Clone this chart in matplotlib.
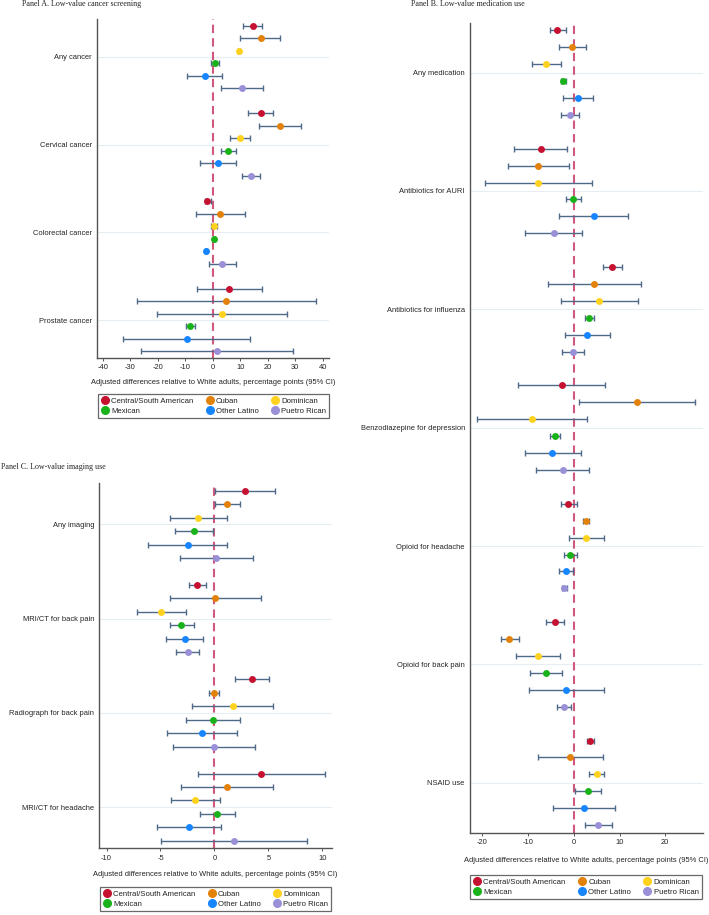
import matplotlib.pyplot as plt
import numpy as np

ETHNICITIES = ["Central/South American", "Cuban", "Dominican",
               "Mexican", "Other Latino", "Puetro Rican"]
COLORS = ["#c41230", "#e3820b", "#ffd21f", "#1ab21a", "#1685ff", "#9a90d8"]

# Panel A. Low-value cancer screening
a_groups = ["Any cancer", "Cervical cancer", "Colorectal cancer", "Prostate cancer"]
a_est = [[14.5, 17.4, 9.6, 0.85, -2.8, 10.7],
         [17.4, 24.4, 10.1, 5.7, 1.9, 13.9],
         [-1.9, 2.7, 0.5, 0.5, -2.3, 3.4],
         [5.8, 5.0, 3.4, -8.3, -9.5, 1.5]]
a_lo = [[10.9, 10.1, 9.2, -0.5, -9.4, 2.9],
        [13.0, 16.9, 6.4, 3.0, -4.7, 10.5],
        [-2.9, -6.0, -0.7, 0.1, -2.7, -1.3],
        [-5.8, -27.7, -20.3, -9.8, -32.5, -26.1]]
a_hi = [[18.1, 24.4, 10.0, 2.2, 3.5, 18.2],
        [21.8, 32.2, 13.7, 8.4, 8.6, 17.3],
        [-0.7, 11.6, 1.7, 0.9, -1.9, 8.4],
        [17.8, 37.7, 27.1, -6.4, 13.5, 29.1]]

# Panel B. Low-value medication use
b_groups = ["Any medication", "Antibiotics for AURI", "Antibiotics for influenza",
            "Benzodiazepine for depression", "Opioid for headache",
            "Opioid for back pain", "NSAID use"]
b_est = [[-3.6, -0.4, -6.1, -2.3, 0.9, -0.9],
         [-7.3, -7.8, -7.8, -0.1, 4.3, -4.4],
         [8.3, 4.5, 5.5, 3.3, 2.9, -0.2],
         [-2.7, 13.8, -9.1, -4.2, -4.7, -2.4],
         [-1.2, 2.6, 2.6, -0.9, -1.7, -2.1],
         [-4.2, -14.1, -7.9, -6.1, -1.7, -2.2],
         [3.6, -0.9, 5.0, 3.0, 2.3, 5.3]]
b_lo = [[-5.3, -3.2, -9.2, -2.9, -2.3, -2.9],
        [-13.0, -14.5, -19.5, -1.8, -3.2, -10.7],
        [6.3, -5.6, -2.8, 2.4, -1.9, -2.6],
        [-12.2, 1.1, -21.1, -5.3, -10.8, -8.3],
        [-2.8, 1.9, -1.1, -2.2, -3.2, -2.7],
        [-6.2, -15.9, -12.6, -9.6, -9.8, -3.6],
        [2.8, -7.8, 3.4, 0.2, -4.5, 2.4]]
b_hi = [[-1.8, 2.6, -2.8, -1.7, 4.2, 1.2],
        [-1.5, -1.0, 4.0, 1.5, 11.8, 1.8],
        [10.5, 14.7, 14.0, 4.3, 8.0, 2.2],
        [6.9, 26.5, 2.8, -3.1, 1.5, 3.4],
        [0.6, 3.3, 6.5, 0.7, -0.1, -1.5],
        [-2.1, -12.0, -3.1, -2.5, 6.6, -0.7],
        [4.4, 6.4, 6.6, 6.0, 9.1, 8.4]]

# Panel C. Low-value imaging use
c_groups = ["Any imaging", "MRI/CT for back pain", "Radiograph for back pain",
            "MRI/CT for headache"]
c_est = [[2.83, 1.18, -1.49, -1.86, -2.48, 0.16],
         [-1.65, 0.06, -4.91, -3.07, -2.76, -2.45],
         [3.45, -0.03, 1.68, -0.12, -1.15, -0.06],
         [4.35, 1.18, -1.77, 0.25, -2.33, 1.86]]
c_lo = [[0.06, 0.03, -4.13, -3.63, -6.15, -3.23],
        [-2.39, -4.13, -7.17, -4.13, -4.47, -3.54],
        [1.89, -0.50, -2.05, -2.61, -4.41, -3.88],
        [-1.49, -3.11, -4.07, -1.34, -5.28, -4.91]]
c_hi = [[5.62, 2.36, 1.21, -0.12, 1.21, 3.60],
        [-0.81, 4.35, -2.64, -1.93, -1.06, -1.40],
        [5.03, 0.43, 5.40, 2.36, 2.11, 3.76],
        [10.25, 5.47, 0.50, 1.93, 0.60, 8.60]]

W, H = 709, 915
fig = plt.figure(figsize=(W / 100, H / 100), dpi=100)
plt.rcParams["font.family"] = ["Liberation Sans", "DejaVu Sans"]

ERR = "#4f6988"
REF = "#d0587c"
TXT = "#222222"
SERIF = ["Liberation Serif", "DejaVu Serif"]
FS = 5.4


def px_axes(left, top, right, bottom):
    return fig.add_axes([left / W, 1 - bottom / H, (right - left) / W, (bottom - top) / H])


def forest(ax, groups, est, lo, hi, xlim, xticks, pad):
    n = len(groups)
    for g in range(n):
        base = g * 7
        for k in range(6):
            y = base + k
            e, l, h = est[g][k], lo[g][k], hi[g][k]
            ax.errorbar(e, y, xerr=[[e - l], [h - e]], fmt="none", ecolor=ERR,
                        elinewidth=1.0, capsize=2.2, capthick=1.0, zorder=3)
            ax.plot(e, y, "o", color=COLORS[k], markersize=5, markeredgewidth=0, zorder=4)
    centers = [g * 7 + 2.5 for g in range(n)]
    for c in centers:
        ax.axhline(c, color="#e6edf3", lw=0.8, zorder=0)
    ax.axvline(0, color=REF, lw=1.5, dashes=(4, 2.5), zorder=2)
    ax.set_yticks(centers)
    ax.set_yticklabels(groups, fontsize=FS, color=TXT)
    ax.tick_params(axis="y", length=0, pad=3.5)
    ax.set_ylim(n * 7 - 2 + pad, -pad)
    ax.set_xlim(*xlim)
    ax.set_xticks(xticks)
    ax.set_xticklabels([str(t) for t in xticks], fontsize=FS, color=TXT)
    ax.tick_params(axis="x", length=2.5, width=0.7, pad=2, color="#555555")
    for s in ["top", "right"]:
        ax.spines[s].set_visible(False)
    for s in ["left", "bottom"]:
        ax.spines[s].set_color("#555555")
        ax.spines[s].set_linewidth(1.0)


def legend(ax, cx, cy):
    handles = [plt.Line2D([], [], marker="o", ls="", color=c, markersize=5.5) for c in COLORS]
    order = [0, 3, 1, 4, 2, 5]
    leg = ax.legend([handles[i] for i in order], [ETHNICITIES[i] for i in order],
                    ncol=3, loc="center", bbox_to_anchor=(cx / W, 1 - cy / H),
                    bbox_transform=fig.transFigure, fontsize=5.6, frameon=True,
                    fancybox=False, edgecolor="#444444", handletextpad=0.3,
                    columnspacing=1.6, labelspacing=0.3, borderpad=0.4,
                    handlelength=1.0)
    leg.get_frame().set_linewidth(0.9)
    for t in leg.get_texts():
        t.set_color(TXT)


XLABEL = "Adjusted differences relative to White adults, percentage points (95% CI)"

axA = px_axes(96.7, 19, 329, 358)
forest(axA, a_groups, a_est, a_lo, a_hi, (-42.2, 42.3), list(range(-40, 41, 10)), 0.53)
fig.text(213 / W, 1 - 383 / H, XLABEL, ha="center", va="center", fontsize=FS, color=TXT)
legend(axA, 213.5, 406)
fig.text(22 / W, 1 - 4.5 / H, "Panel A. Low-value cancer screening", ha="left",
         va="center", fontsize=5.8, family=SERIF, color=TXT)

axC = px_axes(99, 483.3, 332, 848.3)
forest(axC, c_groups, c_est, c_lo, c_hi, (-10.7, 10.9), [-10, -5, 0, 5, 10], 0.55)
fig.text(215 / W, 1 - 874 / H, XLABEL, ha="center", va="center", fontsize=FS, color=TXT)
legend(axC, 215.5, 899)
fig.text(1 / W, 1 - 467 / H, "Panel C. Low-value imaging use", ha="left",
         va="center", fontsize=5.8, family=SERIF, color=TXT)

axB = px_axes(469.7, 22.7, 702.7, 832.7)
forest(axB, b_groups, b_est, b_lo, b_hi, (-22.8, 28.2), [-20, -10, 0, 10, 20], 0.45)
fig.text(586 / W, 1 - 861 / H, XLABEL, ha="center", va="center", fontsize=FS, color=TXT)
legend(axB, 586, 887)
fig.text(411 / W, 1 - 4.5 / H, "Panel B. Low-value medication use", ha="left",
         va="center", fontsize=5.8, family=SERIF, color=TXT)

fig.savefig("out.png", dpi=100, facecolor="white")
